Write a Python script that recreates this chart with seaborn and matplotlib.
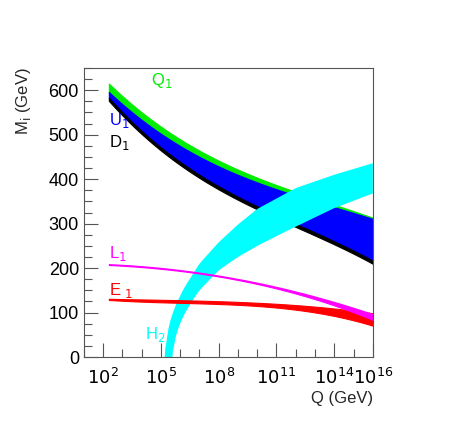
import numpy as np
import matplotlib
matplotlib.use("Agg")
import matplotlib.pyplot as plt
import seaborn as sns
from matplotlib.ticker import MultipleLocator, FixedLocator

# log10(Q) nodes and band edges (GeV)
q_x = [2.3, 4, 6, 8, 10, 12, 14, 16]
q1_top = [618, 545, 490, 445, 405, 370, 340, 315]
q1_bot = [598, 530, 475, 430, 395, 362, 335, 312]
d1_top = [585, 505, 440, 385, 340, 300, 258, 218]
d1_bot = [578, 498, 433, 378, 333, 293, 251, 211]

h_up_x = [5.2, 5.3, 5.5, 5.8, 6.2, 7, 8, 9, 10, 12, 14, 16]
h_up = [0, 45, 85, 120, 155, 210, 258, 298, 333, 380, 410, 436]
h_lo_x = [5.6, 5.7, 5.9, 6.2, 6.6, 7, 8, 9, 10, 11.6, 14, 16]
h_lo = [0, 35, 65, 95, 125, 150, 195, 225, 250, 285, 335, 368]

le_x = [2.3, 6, 8, 10, 12, 14, 15, 16]
l1_top = [209, 196, 183, 167, 148, 124, 110, 97]
l1_bot = [207, 194, 181, 164, 143, 117, 100, 84]
e1_top = [131, 128, 126, 122, 116, 110, 105, 98]
e1_bot = [128, 124, 119, 113, 105, 95, 85, 68]

sns.set_style("white")
plt.rcParams["font.family"] = ["Liberation Sans", "DejaVu Sans"]

fig = plt.figure(figsize=(4.53, 4.36), dpi=100)
ax = fig.add_axes([0.185, 0.181, 0.638, 0.663])


def smooth(x, y, xs):
    # cubic least-squares curve through the read-off nodes
    return np.polyval(np.polyfit(x, y, 3), xs)


def smooth_interp(x, y, xs):
    # piecewise-linear on a dense grid, then moving average
    ys = np.interp(xs, x, y)
    k = 9
    pad = np.pad(ys, k // 2, mode="edge")
    return np.convolve(pad, np.ones(k) / k, mode="valid")


def band(x, lo, hi, color):
    xs = np.linspace(min(x), max(x), 300)
    ax.fill_between(xs, smooth(x, lo, xs), smooth(x, hi, xs), color=color, lw=0.8, edgecolor=color)


band(q_x, q1_bot, q1_top, "#00ee00")
band(q_x, d1_top, q1_bot, "#0000ff")
band(q_x, d1_bot, d1_top, "black")

# H2 band: polygon from upper and lower edges
xu = np.linspace(min(h_up_x), 16, 400)
xl = np.linspace(min(h_lo_x), 16, 400)
yu = smooth_interp(h_up_x, h_up, xu)
yl = smooth_interp(h_lo_x, h_lo, xl)
yu[0] = 0
yl[0] = 0
ax.fill(np.concatenate([xu, xl[::-1]]), np.concatenate([yu, yl[::-1]]), color="#00ffff", lw=0)

band(le_x, e1_bot, e1_top, "red")
band(le_x, l1_bot, l1_top, "magenta")

ax.set_xlim(1, 16)
ax.set_ylim(0, 650)
ax.xaxis.set_major_locator(FixedLocator([2, 5, 8, 11, 14, 16]))
ax.set_xticklabels([r"$10^{2}$", r"$10^{5}$", r"$10^{8}$", r"$10^{11}$", r"$10^{14}$", r"$10^{16}$"])
ax.xaxis.set_minor_locator(MultipleLocator(1))
ax.yaxis.set_major_locator(MultipleLocator(100))
ax.yaxis.set_minor_locator(MultipleLocator(25))
ax.tick_params(which="both", direction="in", bottom=True, left=True, top=False, right=False,
               labelsize=13, colors="#555555", labelcolor="black")
ax.tick_params(which="major", length=10, width=0.8)
ax.tick_params(which="minor", length=6, width=0.8)
ax.tick_params(axis="x", pad=8)
for s in ax.spines.values():
    s.set_color("#555555")
    s.set_linewidth(0.8)

fig.text(0.823, 0.075, "Q (GeV)", ha="right", fontsize=12)
fig.text(0.03, 0.845, r"M$_{\rm i}$ (GeV)", rotation=90, ha="left", va="top", fontsize=12)

ax.text(4.5, 612, r"Q$_1$", color="#00ee00", fontsize=12)
ax.text(2.3, 522, r"U$_1$", color="blue", fontsize=12)
ax.text(2.3, 472, r"D$_1$", color="black", fontsize=12)
ax.text(2.3, 222, r"L$_1$", color="magenta", fontsize=12)
ax.text(2.3, 140, r"E $_1$", color="red", fontsize=12)
ax.text(4.2, 40, r"H$_2$", color="#00ffff", fontsize=12)

fig.savefig("out.png", dpi=100)
